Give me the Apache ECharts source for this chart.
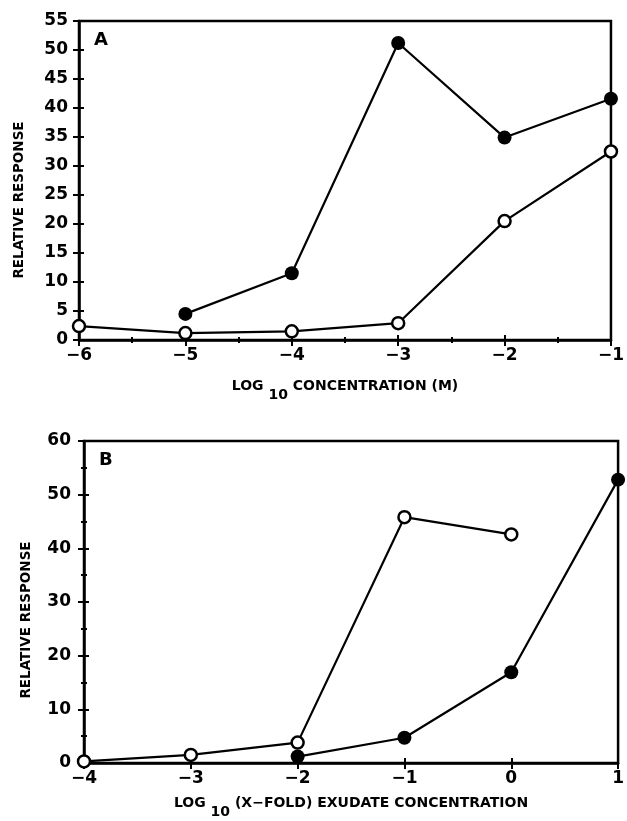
<!DOCTYPE html>
<html>
<head>
<meta charset="utf-8">
<script src="https://cdn.jsdelivr.net/npm/echarts@6/dist/echarts.min.js"></script>
<style>
  html, body { margin: 0; padding: 0; background: #fff; }
  #charts { width: 627px; height: 821px; }
</style>
</head>
<body>
<div id="charts"></div>
<script>
// panel A: log10 concentration (M)
var aX = [-6, -5, -4, -3, -2, -1];
var aOpen = [2.4, 1.2, 1.5, 2.9, 20.5, 32.5];
var aFilled = [null, 4.5, 11.5, 51.2, 34.9, 41.6];
// panel B: log10 (x-fold) exudate concentration
var bX = [-4, -3, -2, -1, 0, 1];
var bOpen = [0.3, 1.5, 3.8, 45.8, 42.6, null];
var bFilled = [null, null, 1.2, 4.7, 16.9, 52.8];

var FONT = 'DejaVu Sans';

function pairs(xs, ys) {
  var out = [];
  for (var i = 0; i < xs.length; i++) {
    if (ys[i] !== null) out.push([xs[i], ys[i]]);
  }
  return out;
}

function minus(v) {
  return String(v).replace('-', '\u2212');
}

function mainX(grid, min, max, name, gap, minor) {
  return {
    type: 'value', gridIndex: grid, min: min, max: max, interval: 1, position: 'bottom',
    axisLine: { onZero: false, lineStyle: { color: '#000', width: 2.5 } },
    axisTick: { inside: false, length: 6, lineStyle: { color: '#000', width: 2 } },
    minorTick: { show: minor, splitNumber: 2, length: 3, lineStyle: { color: '#000', width: 2 } },
    splitLine: { show: false },
    axisLabel: { color: '#000', fontFamily: FONT, fontWeight: 'bold', fontSize: 17, margin: 7, formatter: minus },
    name: name, nameLocation: 'middle', nameGap: gap,
    nameTextStyle: {
      color: '#000', fontFamily: FONT, fontWeight: 'bold', fontSize: 14,
      rich: { sub: { fontFamily: FONT, fontWeight: 'bold', fontSize: 14, padding: [18, 0, 0, 0] } }
    }
  };
}

function innerX(grid, min, max, minor) {
  return {
    type: 'value', gridIndex: grid, min: min, max: max, interval: 1, position: 'bottom',
    axisLine: { show: false, onZero: false },
    axisTick: { inside: true, length: 5, lineStyle: { color: '#000', width: 2 } },
    minorTick: { show: minor, splitNumber: 2, length: 3, lineStyle: { color: '#000', width: 2 } },
    splitLine: { show: false },
    axisLabel: { show: false }
  };
}

function mainY(grid, max, step, minor, margin) {
  return {
    type: 'value', gridIndex: grid, min: 0, max: max, interval: step, position: 'left',
    axisLine: { show: true, onZero: false, lineStyle: { color: '#000', width: 2.5 } },
    axisTick: { show: true, inside: false, length: 6, lineStyle: { color: '#000', width: 2 } },
    minorTick: { show: minor, splitNumber: 2, length: 3, lineStyle: { color: '#000', width: 2 } },
    splitLine: { show: false },
    axisLabel: { color: '#000', fontFamily: FONT, fontWeight: 'bold', fontSize: 17, margin: margin }
  };
}

function innerY(grid, max, step, minor) {
  return {
    type: 'value', gridIndex: grid, min: 0, max: max, interval: step, position: 'left',
    axisLine: { show: false, onZero: false },
    axisTick: { show: true, inside: true, length: 5, lineStyle: { color: '#000', width: 2 } },
    minorTick: { show: minor, splitNumber: 2, length: 3, lineStyle: { color: '#000', width: 2 } },
    splitLine: { show: false },
    axisLabel: { show: false }
  };
}

function filledSeries(xi, data) {
  return {
    type: 'line', xAxisIndex: xi, yAxisIndex: xi, data: data,
    symbol: 'circle', symbolSize: 14, showAllSymbol: true,
    lineStyle: { color: '#000', width: 2.2 },
    itemStyle: { color: '#000', borderColor: '#000', borderWidth: 0 },
    silent: true, animation: false, z: 3
  };
}

function openSeries(xi, data) {
  return {
    type: 'line', xAxisIndex: xi, yAxisIndex: xi, data: data,
    symbol: 'circle', symbolSize: 12, showAllSymbol: true,
    lineStyle: { color: '#000', width: 2.2 },
    itemStyle: { color: '#fff', borderColor: '#000', borderWidth: 2.5 },
    silent: true, animation: false, z: 4
  };
}

function yTitle(x, y) {
  return {
    type: 'text', x: x, y: y, rotation: Math.PI / 2,
    style: {
      text: 'RELATIVE RESPONSE', font: 'bold 13.5px "DejaVu Sans"', fill: '#000',
      align: 'center', verticalAlign: 'middle'
    }
  };
}

var chart = echarts.init(document.getElementById('charts'));
chart.setOption({
  backgroundColor: '#fff',
  animation: false,
  grid: [
    { left: 79, top: 21, width: 537, height: 319, show: true, borderColor: '#000', borderWidth: 2.5, backgroundColor: 'transparent' },
    { left: 84, top: 441, width: 538, height: 322, show: true, borderColor: '#000', borderWidth: 2.5, backgroundColor: 'transparent' }
  ],
  xAxis: [
    mainX(0, -6, -1, 'LOG {sub|10} CONCENTRATION (M)', 30, true),
    innerX(0, -6, -1, true),
    mainX(1, -4, 1, 'LOG {sub|10} (X\u2212FOLD) EXUDATE CONCENTRATION', 24, false),
    innerX(1, -4, 1, false)
  ],
  yAxis: [
    mainY(0, 55, 5, false, 11),
    innerY(0, 55, 5, false),
    mainY(1, 60, 10, true, 13),
    innerY(1, 60, 10, true)
  ],
  graphic: [
    { type: 'text', left: 94, top: 31, style: { text: 'A', font: 'bold 18px "DejaVu Sans"', fill: '#000' } },
    { type: 'text', left: 99, top: 451, style: { text: 'B', font: 'bold 18px "DejaVu Sans"', fill: '#000' } },
    yTitle(19, 200),
    yTitle(26, 620)
  ],
  series: [
    openSeries(0, pairs(aX, aOpen)),
    filledSeries(0, pairs(aX, aFilled)),
    openSeries(2, pairs(bX, bOpen)),
    filledSeries(2, pairs(bX, bFilled))
  ]
});
</script>
</body>
</html>
